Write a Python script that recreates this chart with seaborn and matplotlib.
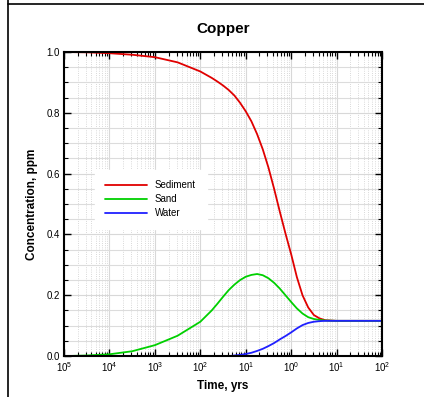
import numpy as np
import pandas as pd
import seaborn as sns
import matplotlib.pyplot as plt
from matplotlib.lines import Line2D
from matplotlib.ticker import LogLocator, MultipleLocator, FixedLocator, NullFormatter, FormatStrFormatter

# time axis (log10 of years)
log_time = [-5, -4.5, -4, -3.5, -3, -2.5, -2, -1.75, -1.625, -1.5, -1.375, -1.25, -1.125, -1, -0.875,
            -0.75, -0.625, -0.5, -0.375, -0.25, -0.125, 0, 0.125, 0.25, 0.375, 0.5, 0.625, 0.75,
            1, 1.5, 2]
sediment = [1.0, 0.999, 0.996, 0.991, 0.983, 0.966, 0.936, 0.915, 0.903, 0.89, 0.875, 0.857, 0.833, 0.805,
            0.772, 0.73, 0.68, 0.62, 0.55, 0.475, 0.403, 0.335, 0.26, 0.2, 0.16, 0.135, 0.124, 0.118,
            0.116, 0.116, 0.116]
sand = [0.0, 0.002, 0.006, 0.016, 0.036, 0.067, 0.113, 0.15, 0.172, 0.195, 0.217, 0.235, 0.25, 0.261,
        0.267, 0.27, 0.266, 0.256, 0.241, 0.222, 0.2, 0.178, 0.157, 0.14, 0.128, 0.122, 0.119, 0.117,
        0.116, 0.116, 0.116]
water = [0.0, 0.0, 0.0, 0.0, 0.0, 0.0, 0.0, 0.0, 0.0, 0.0, 0.0, 0.002, 0.004, 0.007, 0.011,
         0.017, 0.024, 0.033, 0.043, 0.055, 0.066, 0.078, 0.091, 0.102, 0.109, 0.113, 0.115, 0.116,
         0.116, 0.116, 0.116]
series_names = ['Sediment', 'Sand', 'Water']
colors = {'Sediment': '#e00000', 'Sand': '#00d000', 'Water': '#2020ff'}
xtick_labels = ['$10^{5}$', '$10^{4}$', '$10^{3}$', '$10^{2}$', '$10^{1}$',
                '$10^{0}$', '$10^{1}$', '$10^{2}$']

times = 10.0 ** np.array(log_time)
df = pd.DataFrame({'time': np.tile(times, 3),
                   'conc': sediment + sand + water,
                   'phase': np.repeat(series_names, len(times))})

sns.set_style("ticks")
plt.rcParams['font.family'] = ['Liberation Sans', 'DejaVu Sans']
plt.rcParams['mathtext.fontset'] = 'custom'
plt.rcParams['mathtext.rm'] = 'Liberation Sans'
plt.rcParams['mathtext.it'] = 'Liberation Sans'
plt.rcParams['text.color'] = 'black'
plt.rcParams['axes.labelcolor'] = 'black'

fig = plt.figure(figsize=(4.24, 3.97), dpi=100)
ax = fig.add_axes([0.151, 0.103, 0.750, 0.766])

sns.lineplot(data=df, x='time', y='conc', hue='phase', palette=colors,
             hue_order=series_names, linewidth=1.3, ax=ax)

ax.set_xscale('log')
ax.set_xlim(1e-5, 1e2)
ax.set_ylim(0, 1.0)
ax.xaxis.set_major_locator(FixedLocator(10.0 ** np.arange(-5, 3)))
ax.set_xticklabels(xtick_labels)
ax.xaxis.set_minor_locator(LogLocator(base=10, subs=np.arange(2, 10), numticks=20))
ax.xaxis.set_minor_formatter(NullFormatter())
ax.yaxis.set_major_locator(MultipleLocator(0.2))
ax.yaxis.set_minor_locator(MultipleLocator(0.05))
ax.yaxis.set_major_formatter(FormatStrFormatter('%.1f'))

ax.grid(which='major', color='#d8d8d8', linewidth=0.8, linestyle='-')
ax.grid(which='minor', axis='y', color='#dcdcdc', linewidth=0.8, linestyle='-')
ax.grid(which='minor', axis='x', color='#cccccc', linewidth=0.6, linestyle=':')
ax.set_axisbelow(True)

ax.tick_params(which='both', direction='in', top=True, right=True, colors='black',
               labelcolor='black', labelsize=7, pad=3)
ax.tick_params(which='major', length=5, width=1)
ax.tick_params(which='minor', length=3, width=0.8)
for side in ax.spines.values():
    side.set_linewidth(1.5)
    side.set_color('black')

ax.set_title('Copper', fontsize=11, fontweight='bold', pad=14, color='black')
ax.set_xlabel('Time, yrs', fontsize=8.5, fontweight='bold', labelpad=4)
ax.set_ylabel('Concentration, ppm', fontsize=8.5, fontweight='bold', labelpad=6)

leg = ax.legend(loc='upper left', bbox_to_anchor=(0.09, 0.62), frameon=True,
                fontsize=7, handlelength=4.3, labelspacing=0.4, borderpad=0.8,
                handletextpad=0.8)
leg.get_frame().set_facecolor('white')
leg.get_frame().set_edgecolor('white')
leg.get_frame().set_alpha(1)
leg.get_frame().set_boxstyle('square')
for h in leg.get_lines():
    h.set_linewidth(1.3)
for t in leg.get_texts():
    t.set_color('black')

# page border lines
fig.add_artist(Line2D([8 / 424, 8 / 424], [0, 1], color='black', linewidth=1.2,
                      transform=fig.transFigure))
fig.add_artist(Line2D([8 / 424, 1], [1 - 4 / 397, 1 - 4 / 397], color='black',
                      linewidth=1.2, transform=fig.transFigure))

plt.savefig('out.png', dpi=100)
